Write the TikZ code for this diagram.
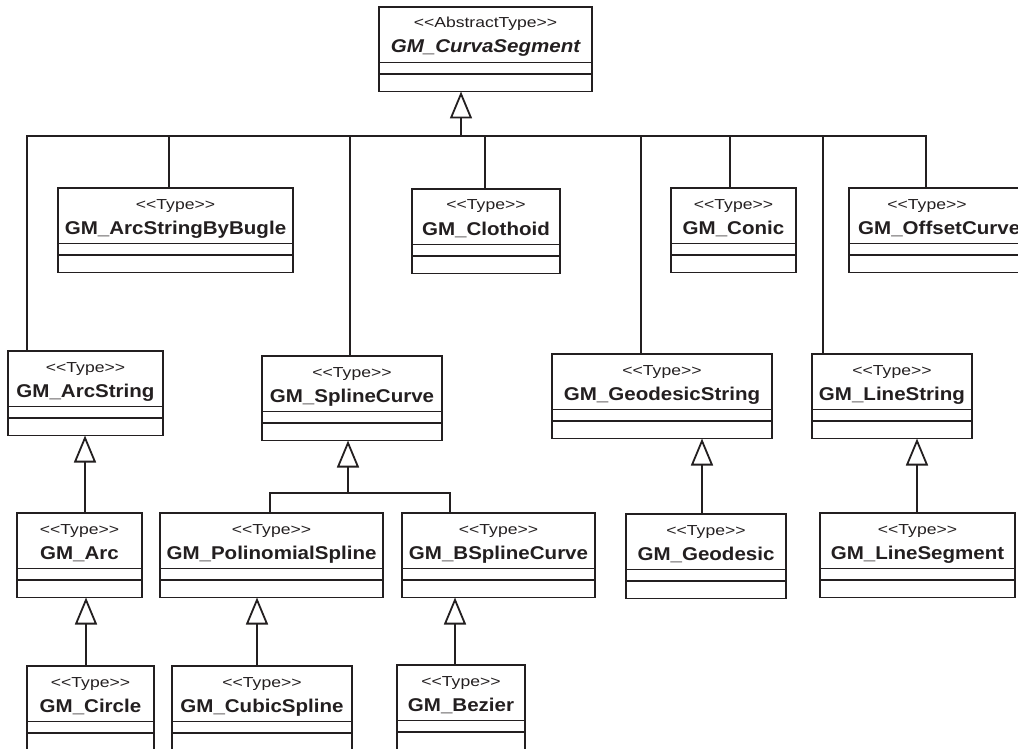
\documentclass[tikz,border=0pt]{standalone}
\usepackage{fontspec}
\setmainfont{Liberation Sans}
\usepackage{graphicx}
\usetikzlibrary{arrows.meta}
\definecolor{ink}{RGB}{35,31,32}

% stereotype and class-name text, slightly widened
\newcommand\sttext[1]{\scalebox{1.21}[1]{<\kern0pt<#1>\kern0pt>}}
\newcommand\nmtext[1]{\scalebox{1.11}[1]{#1}}

\tikzset{
  cls/.style={draw=ink, line width=1.9pt, fill=white, minimum height=84.5pt,
              anchor=north west, inner sep=0pt, outer sep=0pt},
  sepline/.style={draw=ink, line width=1.6pt},
  stereo/.style={anchor=base, inner sep=0pt, text=ink, font=\fontsize{14.5}{16}\selectfont},
  title/.style={anchor=base, inner sep=0pt, text=ink, font=\fontsize{18.5}{20}\selectfont\bfseries},
  link/.style={draw=ink, line width=1.8pt},
  gen/.style={link, -{Triangle[open, length=27pt, width=22pt]}},
}

% UML class box: id, left, top, right, stereotype, name
\newcommand\umlclass[6]{%
  \node[cls, minimum width={#4-#2}] (#1) at (#2,#3) {};
  \draw[sepline] ([yshift=-55.5pt]#1.north west) -- ([yshift=-55.5pt]#1.north east);
  \draw[sepline] ([yshift=-67pt]#1.north west) -- ([yshift=-67pt]#1.north east);
  \path (#1.north) ++(0,21) node[stereo] (#1-st) {\sttext{#5}};
  \path (#1.north) ++(0,46) node[title] (#1-nm) {\nmtext{#6}};
}

\begin{document}
\begin{tikzpicture}[x=1pt, y=-1pt]
\useasboundingbox (0,0) rectangle (1018,749);
\fill[white] (0,0) rectangle (1018,749);
\clip (0,0) rectangle (1018,749);

% root
\umlclass{curva}{379}{7}{592}{AbstractType}{\itshape GM\_CurvaSegment}

% first level
\umlclass{bugle}{58}{188}{293}{Type}{GM\_ArcStringByBugle}
\umlclass{clothoid}{412}{189}{560}{Type}{GM\_Clothoid}
\umlclass{conic}{671}{188}{796}{Type}{GM\_Conic}
\node[cls, minimum width=191] (offset) at (849,188) {};
\draw[sepline] ([yshift=-55.5pt]offset.north west) -- ([yshift=-55.5pt]offset.north east);
\draw[sepline] ([yshift=-67pt]offset.north west) -- ([yshift=-67pt]offset.north east);
\path (offset.north west) ++(78,21) node[stereo] (offset-st) {\sttext{Type}};
\path (offset.north west) ++(9,46) node[title, anchor=base west] (offset-nm) {\nmtext{GM\_OffsetCurve}};

\umlclass{arcstring}{8}{351}{163}{Type}{GM\_ArcString}
\umlclass{spline}{262}{356}{442}{Type}{GM\_SplineCurve}
\umlclass{geostr}{552}{354}{772}{Type}{GM\_GeodesicString}
\umlclass{linestr}{812}{354}{972}{Type}{GM\_LineString}

% second level
\umlclass{arc}{17}{513}{142}{Type}{GM\_Arc}
\umlclass{poly}{160}{513}{383}{Type}{GM\_PolinomialSpline}
\umlclass{bspline}{402}{513}{595}{Type}{GM\_BSplineCurve}
\umlclass{geodesic}{626}{514}{786}{Type}{GM\_Geodesic}
\umlclass{lineseg}{820}{513}{1015}{Type}{GM\_LineSegment}

% third level
\umlclass{circle}{27}{666}{154}{Type}{GM\_Circle}
\umlclass{cubic}{172}{666}{352}{Type}{GM\_CubicSpline}
\umlclass{bezier}{397}{665}{525}{Type}{GM\_Bezier}

% generalization to GM_CurvaSegment through a shared bus
\coordinate (bus) at (461,136);
\draw[gen] (bus) -- ([xshift=-24.5pt]curva.south);
\draw[link] ([xshift=-58.5pt]arcstring.north) |- (bus);
\draw[link] ([xshift=-6.5pt]bugle.north) |- (bus);
\draw[link] ([xshift=-2pt]spline.north) |- (bus);
\draw[link] ([xshift=-1pt]clothoid.north) |- (bus);
\draw[link] ([xshift=-21pt]geostr.north) |- (bus);
\draw[link] ([xshift=-3.5pt]conic.north) |- (bus);
\draw[link] ([xshift=-69pt]linestr.north) |- (bus);
\draw[link] ([xshift=-18.5pt]offset.north) |- (bus);

% generalization to GM_SplineCurve
\coordinate (bus2) at (348,493);
\draw[gen] (bus2) -- ([xshift=-4pt]spline.south);
\draw[link] ([xshift=-1.5pt]poly.north) |- (bus2);
\draw[link] ([xshift=-48.5pt]bspline.north) |- (bus2);

% single generalizations
\draw[gen] ([xshift=5.5pt]arc.north) -- ([xshift=-0.5pt]arcstring.south);
\draw[gen] ([xshift=-4pt]geodesic.north) -- ([xshift=40pt]geostr.south);
\draw[gen] ([xshift=-0.5pt]lineseg.north) -- ([xshift=25pt]linestr.south);
\draw[gen] ([xshift=-4.5pt]circle.north) -- ([xshift=6.5pt]arc.south);
\draw[gen] ([xshift=-5pt]cubic.north) -- ([xshift=-14.5pt]poly.south);
\draw[gen] ([xshift=-6pt]bezier.north) -- ([xshift=-43.5pt]bspline.south);
\end{tikzpicture}
\end{document}
